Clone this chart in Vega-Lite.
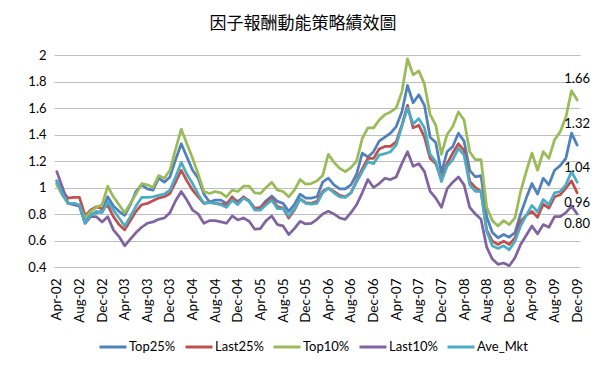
{
  "$schema": "https://vega.github.io/schema/vega-lite/v6.json",
  "width": 526,
  "height": 212,
  "autosize": {"type": "none"},
  "padding": {"left": 54, "top": 55, "right": 20, "bottom": 109},
  "background": "white",
  "title": {"text": "因子報酬動能策略績效圖", "font": "Noto Sans CJK TC", "fontSize": 17, "fontWeight": "normal", "color": "#000000", "anchor": "middle", "frame": "group", "offset": 16, "dx": -14},
  "data": {"values": [
    {"d":"2002-04","Top25%":1.05,"Last25%":1.03,"Top10%":1.02,"Last10%":1.12,"Ave_Mkt":1.05},
    {"d":"2002-05","Top25%":0.95,"Last25%":0.97,"Top10%":0.94,"Last10%":1.00,"Ave_Mkt":0.95},
    {"d":"2002-06","Top25%":0.88,"Last25%":0.92,"Top10%":0.88,"Last10%":0.88,"Ave_Mkt":0.88},
    {"d":"2002-07","Top25%":0.88,"Last25%":0.925,"Top10%":0.88,"Last10%":0.87,"Ave_Mkt":0.88},
    {"d":"2002-08","Top25%":0.86,"Last25%":0.925,"Top10%":0.86,"Last10%":0.86,"Ave_Mkt":0.87},
    {"d":"2002-09","Top25%":0.74,"Last25%":0.785,"Top10%":0.77,"Last10%":0.73,"Ave_Mkt":0.73},
    {"d":"2002-10","Top25%":0.80,"Last25%":0.83,"Top10%":0.82,"Last10%":0.78,"Ave_Mkt":0.79},
    {"d":"2002-11","Top25%":0.81,"Last25%":0.855,"Top10%":0.85,"Last10%":0.78,"Ave_Mkt":0.82},
    {"d":"2002-12","Top25%":0.82,"Last25%":0.84,"Top10%":0.87,"Last10%":0.74,"Ave_Mkt":0.81},
    {"d":"2003-01","Top25%":0.93,"Last25%":0.865,"Top10%":1.01,"Last10%":0.78,"Ave_Mkt":0.89},
    {"d":"2003-02","Top25%":0.86,"Last25%":0.78,"Top10%":0.93,"Last10%":0.68,"Ave_Mkt":0.83},
    {"d":"2003-03","Top25%":0.82,"Last25%":0.72,"Top10%":0.87,"Last10%":0.63,"Ave_Mkt":0.77},
    {"d":"2003-04","Top25%":0.79,"Last25%":0.68,"Top10%":0.81,"Last10%":0.56,"Ave_Mkt":0.71},
    {"d":"2003-05","Top25%":0.87,"Last25%":0.75,"Top10%":0.88,"Last10%":0.61,"Ave_Mkt":0.78},
    {"d":"2003-06","Top25%":0.97,"Last25%":0.82,"Top10%":0.95,"Last10%":0.66,"Ave_Mkt":0.86},
    {"d":"2003-07","Top25%":1.02,"Last25%":0.87,"Top10%":1.03,"Last10%":0.70,"Ave_Mkt":0.925},
    {"d":"2003-08","Top25%":0.99,"Last25%":0.88,"Top10%":1.02,"Last10%":0.73,"Ave_Mkt":0.925},
    {"d":"2003-09","Top25%":0.98,"Last25%":0.90,"Top10%":1.00,"Last10%":0.74,"Ave_Mkt":0.93},
    {"d":"2003-10","Top25%":1.07,"Last25%":0.92,"Top10%":1.09,"Last10%":0.76,"Ave_Mkt":0.94},
    {"d":"2003-11","Top25%":1.04,"Last25%":0.93,"Top10%":1.07,"Last10%":0.77,"Ave_Mkt":0.95},
    {"d":"2003-12","Top25%":1.08,"Last25%":0.955,"Top10%":1.13,"Last10%":0.81,"Ave_Mkt":0.98},
    {"d":"2004-01","Top25%":1.21,"Last25%":1.04,"Top10%":1.29,"Last10%":0.90,"Ave_Mkt":1.08},
    {"d":"2004-02","Top25%":1.33,"Last25%":1.13,"Top10%":1.44,"Last10%":0.97,"Ave_Mkt":1.19},
    {"d":"2004-03","Top25%":1.23,"Last25%":1.05,"Top10%":1.33,"Last10%":0.905,"Ave_Mkt":1.10},
    {"d":"2004-04","Top25%":1.13,"Last25%":0.98,"Top10%":1.22,"Last10%":0.83,"Ave_Mkt":1.03},
    {"d":"2004-05","Top25%":1.07,"Last25%":0.93,"Top10%":1.10,"Last10%":0.80,"Ave_Mkt":0.95},
    {"d":"2004-06","Top25%":0.95,"Last25%":0.88,"Top10%":0.97,"Last10%":0.73,"Ave_Mkt":0.88},
    {"d":"2004-07","Top25%":0.89,"Last25%":0.89,"Top10%":0.955,"Last10%":0.75,"Ave_Mkt":0.885},
    {"d":"2004-08","Top25%":0.905,"Last25%":0.88,"Top10%":0.97,"Last10%":0.75,"Ave_Mkt":0.88},
    {"d":"2004-09","Top25%":0.905,"Last25%":0.875,"Top10%":0.96,"Last10%":0.74,"Ave_Mkt":0.87},
    {"d":"2004-10","Top25%":0.88,"Last25%":0.87,"Top10%":0.93,"Last10%":0.73,"Ave_Mkt":0.85},
    {"d":"2004-11","Top25%":0.92,"Last25%":0.93,"Top10%":0.98,"Last10%":0.785,"Ave_Mkt":0.905},
    {"d":"2004-12","Top25%":0.895,"Last25%":0.88,"Top10%":0.97,"Last10%":0.755,"Ave_Mkt":0.87},
    {"d":"2005-01","Top25%":0.925,"Last25%":0.93,"Top10%":1.01,"Last10%":0.77,"Ave_Mkt":0.92},
    {"d":"2005-02","Top25%":0.90,"Last25%":0.895,"Top10%":1.01,"Last10%":0.745,"Ave_Mkt":0.895},
    {"d":"2005-03","Top25%":0.84,"Last25%":0.845,"Top10%":0.96,"Last10%":0.685,"Ave_Mkt":0.83},
    {"d":"2005-04","Top25%":0.85,"Last25%":0.845,"Top10%":0.955,"Last10%":0.69,"Ave_Mkt":0.83},
    {"d":"2005-05","Top25%":0.90,"Last25%":0.89,"Top10%":1.00,"Last10%":0.75,"Ave_Mkt":0.87},
    {"d":"2005-06","Top25%":0.935,"Last25%":0.92,"Top10%":1.04,"Last10%":0.785,"Ave_Mkt":0.905},
    {"d":"2005-07","Top25%":0.895,"Last25%":0.855,"Top10%":0.98,"Last10%":0.72,"Ave_Mkt":0.84},
    {"d":"2005-08","Top25%":0.88,"Last25%":0.845,"Top10%":0.97,"Last10%":0.71,"Ave_Mkt":0.84},
    {"d":"2005-09","Top25%":0.82,"Last25%":0.77,"Top10%":0.93,"Last10%":0.645,"Ave_Mkt":0.785},
    {"d":"2005-10","Top25%":0.87,"Last25%":0.83,"Top10%":0.98,"Last10%":0.69,"Ave_Mkt":0.84},
    {"d":"2005-11","Top25%":0.95,"Last25%":0.915,"Top10%":1.06,"Last10%":0.745,"Ave_Mkt":0.915},
    {"d":"2005-12","Top25%":0.92,"Last25%":0.885,"Top10%":1.025,"Last10%":0.725,"Ave_Mkt":0.88},
    {"d":"2006-01","Top25%":0.92,"Last25%":0.88,"Top10%":1.03,"Last10%":0.73,"Ave_Mkt":0.875},
    {"d":"2006-02","Top25%":0.93,"Last25%":0.895,"Top10%":1.05,"Last10%":0.76,"Ave_Mkt":0.88},
    {"d":"2006-03","Top25%":1.04,"Last25%":0.97,"Top10%":1.09,"Last10%":0.80,"Ave_Mkt":0.96},
    {"d":"2006-04","Top25%":1.07,"Last25%":0.995,"Top10%":1.25,"Last10%":0.82,"Ave_Mkt":0.995},
    {"d":"2006-05","Top25%":1.02,"Last25%":0.97,"Top10%":1.19,"Last10%":0.80,"Ave_Mkt":0.96},
    {"d":"2006-06","Top25%":0.99,"Last25%":0.94,"Top10%":1.145,"Last10%":0.77,"Ave_Mkt":0.93},
    {"d":"2006-07","Top25%":0.99,"Last25%":0.93,"Top10%":1.12,"Last10%":0.76,"Ave_Mkt":0.925},
    {"d":"2006-08","Top25%":1.02,"Last25%":0.96,"Top10%":1.15,"Last10%":0.81,"Ave_Mkt":0.96},
    {"d":"2006-09","Top25%":1.10,"Last25%":1.05,"Top10%":1.20,"Last10%":0.87,"Ave_Mkt":1.04},
    {"d":"2006-10","Top25%":1.26,"Last25%":1.14,"Top10%":1.37,"Last10%":0.96,"Ave_Mkt":1.12},
    {"d":"2006-11","Top25%":1.23,"Last25%":1.22,"Top10%":1.45,"Last10%":1.06,"Ave_Mkt":1.195},
    {"d":"2006-12","Top25%":1.27,"Last25%":1.22,"Top10%":1.45,"Last10%":1.00,"Ave_Mkt":1.18},
    {"d":"2007-01","Top25%":1.35,"Last25%":1.29,"Top10%":1.51,"Last10%":1.03,"Ave_Mkt":1.245},
    {"d":"2007-02","Top25%":1.38,"Last25%":1.31,"Top10%":1.55,"Last10%":1.07,"Ave_Mkt":1.255},
    {"d":"2007-03","Top25%":1.41,"Last25%":1.31,"Top10%":1.57,"Last10%":1.06,"Ave_Mkt":1.27},
    {"d":"2007-04","Top25%":1.46,"Last25%":1.345,"Top10%":1.60,"Last10%":1.08,"Ave_Mkt":1.32},
    {"d":"2007-05","Top25%":1.57,"Last25%":1.47,"Top10%":1.72,"Last10%":1.18,"Ave_Mkt":1.46},
    {"d":"2007-06","Top25%":1.77,"Last25%":1.62,"Top10%":1.97,"Last10%":1.27,"Ave_Mkt":1.60},
    {"d":"2007-07","Top25%":1.64,"Last25%":1.45,"Top10%":1.85,"Last10%":1.16,"Ave_Mkt":1.48},
    {"d":"2007-08","Top25%":1.70,"Last25%":1.47,"Top10%":1.88,"Last10%":1.18,"Ave_Mkt":1.52},
    {"d":"2007-09","Top25%":1.62,"Last25%":1.38,"Top10%":1.78,"Last10%":1.12,"Ave_Mkt":1.45},
    {"d":"2007-10","Top25%":1.38,"Last25%":1.22,"Top10%":1.55,"Last10%":0.97,"Ave_Mkt":1.25},
    {"d":"2007-11","Top25%":1.34,"Last25%":1.18,"Top10%":1.47,"Last10%":0.92,"Ave_Mkt":1.195},
    {"d":"2007-12","Top25%":1.11,"Last25%":1.06,"Top10%":1.25,"Last10%":0.85,"Ave_Mkt":1.045},
    {"d":"2008-01","Top25%":1.27,"Last25%":1.18,"Top10%":1.40,"Last10%":0.99,"Ave_Mkt":1.16},
    {"d":"2008-02","Top25%":1.31,"Last25%":1.26,"Top10%":1.46,"Last10%":1.04,"Ave_Mkt":1.21},
    {"d":"2008-03","Top25%":1.41,"Last25%":1.33,"Top10%":1.57,"Last10%":1.08,"Ave_Mkt":1.295},
    {"d":"2008-04","Top25%":1.35,"Last25%":1.28,"Top10%":1.51,"Last10%":1.02,"Ave_Mkt":1.245},
    {"d":"2008-05","Top25%":1.13,"Last25%":1.045,"Top10%":1.27,"Last10%":0.85,"Ave_Mkt":1.02},
    {"d":"2008-06","Top25%":1.08,"Last25%":1.00,"Top10%":1.21,"Last10%":0.80,"Ave_Mkt":0.97},
    {"d":"2008-07","Top25%":1.09,"Last25%":0.97,"Top10%":1.21,"Last10%":0.76,"Ave_Mkt":0.97},
    {"d":"2008-08","Top25%":0.78,"Last25%":0.68,"Top10%":0.85,"Last10%":0.55,"Ave_Mkt":0.67},
    {"d":"2008-09","Top25%":0.66,"Last25%":0.595,"Top10%":0.75,"Last10%":0.46,"Ave_Mkt":0.56},
    {"d":"2008-10","Top25%":0.62,"Last25%":0.57,"Top10%":0.71,"Last10%":0.42,"Ave_Mkt":0.54},
    {"d":"2008-11","Top25%":0.645,"Last25%":0.595,"Top10%":0.75,"Last10%":0.43,"Ave_Mkt":0.56},
    {"d":"2008-12","Top25%":0.625,"Last25%":0.57,"Top10%":0.72,"Last10%":0.41,"Ave_Mkt":0.53},
    {"d":"2009-01","Top25%":0.66,"Last25%":0.62,"Top10%":0.77,"Last10%":0.47,"Ave_Mkt":0.595},
    {"d":"2009-02","Top25%":0.80,"Last25%":0.745,"Top10%":0.97,"Last10%":0.57,"Ave_Mkt":0.71},
    {"d":"2009-03","Top25%":0.92,"Last25%":0.79,"Top10%":1.12,"Last10%":0.64,"Ave_Mkt":0.79},
    {"d":"2009-04","Top25%":1.03,"Last25%":0.82,"Top10%":1.26,"Last10%":0.71,"Ave_Mkt":0.865},
    {"d":"2009-05","Top25%":0.95,"Last25%":0.775,"Top10%":1.13,"Last10%":0.65,"Ave_Mkt":0.815},
    {"d":"2009-06","Top25%":1.07,"Last25%":0.875,"Top10%":1.27,"Last10%":0.72,"Ave_Mkt":0.91},
    {"d":"2009-07","Top25%":1.02,"Last25%":0.845,"Top10%":1.22,"Last10%":0.70,"Ave_Mkt":0.87},
    {"d":"2009-08","Top25%":1.13,"Last25%":0.93,"Top10%":1.36,"Last10%":0.78,"Ave_Mkt":0.96},
    {"d":"2009-09","Top25%":1.165,"Last25%":0.945,"Top10%":1.42,"Last10%":0.78,"Ave_Mkt":0.97},
    {"d":"2009-10","Top25%":1.22,"Last25%":0.995,"Top10%":1.53,"Last10%":0.81,"Ave_Mkt":1.02},
    {"d":"2009-11","Top25%":1.41,"Last25%":1.05,"Top10%":1.73,"Last10%":0.86,"Ave_Mkt":1.12},
    {"d":"2009-12","Top25%":1.32,"Last25%":0.96,"Top10%":1.66,"Last10%":0.80,"Ave_Mkt":1.04}
  ]},
  "transform": [{"fold": ["Top25%", "Last25%", "Top10%", "Last10%", "Ave_Mkt"], "as": ["series", "value"]}],
  "encoding": {
    "x": {
      "field": "d", "type": "ordinal",
      "scale": {"type": "point", "padding": 0.5},
      "axis": {
        "values": ["2002-04","2002-08","2002-12","2003-04","2003-08","2003-12","2004-04","2004-08","2004-12","2005-04","2005-08","2005-12","2006-04","2006-08","2006-12","2007-04","2007-08","2007-12","2008-04","2008-08","2008-12","2009-04","2009-08","2009-12"],
        "labelExpr": "utcFormat(toDate(datum.value + '-01'), '%b-%y')",
        "labelAngle": -90, "labelAlign": "right", "labelBaseline": "middle",
        "labelFont": "Lato", "labelFontSize": 13.5, "labelColor": "#000000", "labelPadding": 11,
        "domain": false, "ticks": false, "grid": false, "title": null
      }
    },
    "y": {
      "field": "value", "type": "quantitative",
      "scale": {"domain": [0.4, 2], "nice": false, "zero": false},
      "axis": {
        "values": [0.4, 0.6, 0.8, 1, 1.2, 1.4, 1.6, 1.8, 2],
        "format": "~g",
        "labelFont": "Lato", "labelFontSize": 13, "labelColor": "#000000", "labelPadding": 8,
        "domain": false, "ticks": false, "grid": true, "gridColor": "#bfbfbf", "gridWidth": 1,
        "title": null
      }
    }
  },
  "layer": [
    {
      "mark": {"type": "line", "strokeWidth": 2.75, "strokeJoin": "round", "strokeCap": "round"},
      "encoding": {
        "color": {
          "field": "series", "type": "nominal",
          "scale": {"domain": ["Top25%", "Last25%", "Top10%", "Last10%", "Ave_Mkt"], "range": ["#4F81BD", "#C0504D", "#9BBB59", "#8064A2", "#4BACC6"]},
          "legend": {
            "orient": "none", "legendX": 44, "legendY": 277, "direction": "horizontal",
            "symbolType": "stroke", "symbolSize": 729, "symbolStrokeWidth": 3,
            "labelFont": "Lato", "labelFontSize": 13, "labelColor": "#000000",
            "labelOffset": 1, "columnPadding": 3, "padding": 0, "title": null
          }
        }
      }
    },
    {
      "transform": [{"filter": "datum.d == '2009-12' && (datum.series == 'Top10%' || datum.series == 'Top25%')"}],
      "mark": {"type": "text", "dy": -21, "font": "Lato", "fontSize": 13, "color": "#000000"},
      "encoding": {"text": {"field": "value", "type": "quantitative", "format": ".2f"}}
    },
    {
      "transform": [{"filter": "datum.d == '2009-12' && datum.series == 'Ave_Mkt'"}],
      "mark": {"type": "text", "dy": -14, "font": "Lato", "fontSize": 13, "color": "#000000"},
      "encoding": {"text": {"field": "value", "type": "quantitative", "format": ".2f"}}
    },
    {
      "transform": [{"filter": "datum.d == '2009-12' && (datum.series == 'Last25%' || datum.series == 'Last10%')"}],
      "mark": {"type": "text", "dy": 10, "font": "Lato", "fontSize": 13, "color": "#000000"},
      "encoding": {"text": {"field": "value", "type": "quantitative", "format": ".2f"}}
    }
  ],
  "config": {"view": {"stroke": null}}
}
